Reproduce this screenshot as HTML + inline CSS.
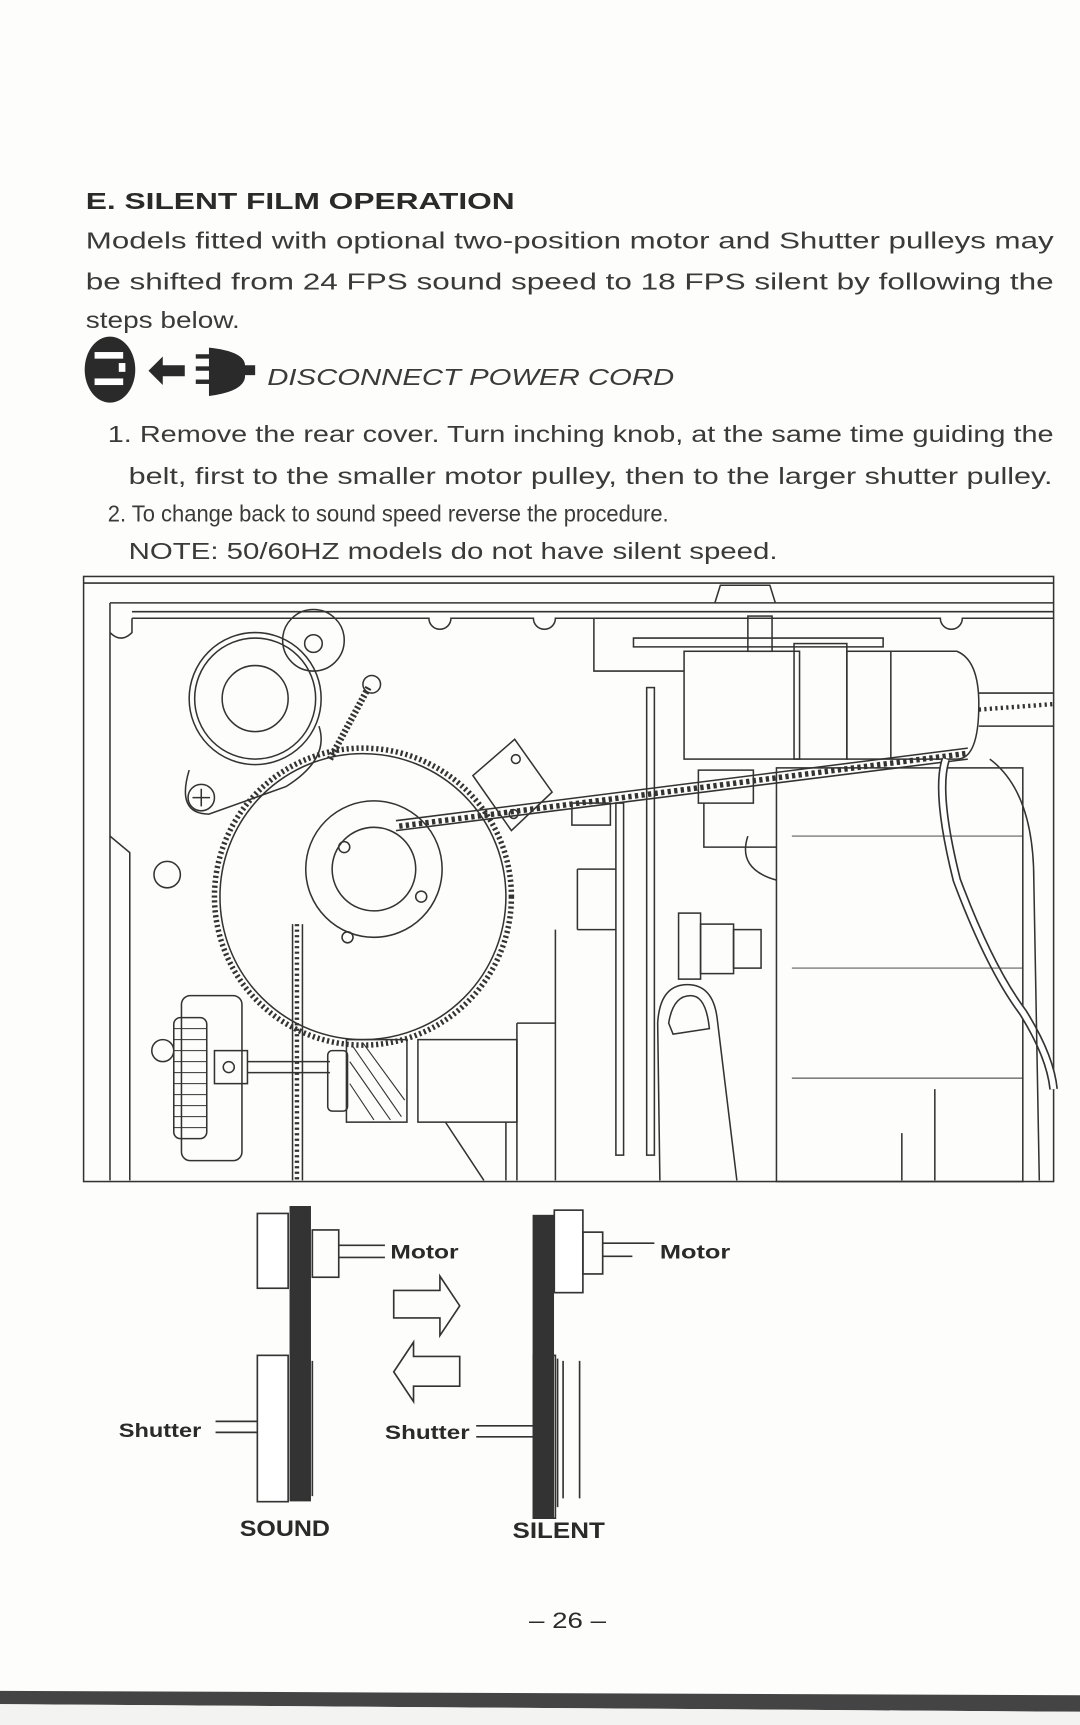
<!DOCTYPE html>
<html><head><meta charset="utf-8"><style>
html,body{margin:0;padding:0;background:#fff;}
svg{display:block}
text{font-family:"Liberation Sans",sans-serif;fill:#2a2a2a}
</style></head><body>
<svg width="1080" height="1725" viewBox="0 0 982 1568" preserveAspectRatio="none" xmlns="http://www.w3.org/2000/svg">
<rect width="982" height="1568" fill="#fdfdfb"/>
<text x="78" y="190" font-size="21" font-weight="bold" textLength="390" lengthAdjust="spacingAndGlyphs">E.  SILENT FILM OPERATION</text>
<g font-size="21" style="fill:#3a3a3a">
<text x="78" y="226" textLength="880" lengthAdjust="spacingAndGlyphs" style="fill:#3a3a3a">Models fitted with optional two-position motor and Shutter pulleys may</text>
<text x="78" y="263" textLength="880" lengthAdjust="spacingAndGlyphs" style="fill:#3a3a3a">be shifted from 24 FPS sound speed to 18 FPS silent by following the</text>
<text x="78" y="298" textLength="140" lengthAdjust="spacingAndGlyphs" style="fill:#3a3a3a">steps below.</text>
<text x="243" y="350" font-style="italic" textLength="370" lengthAdjust="spacingAndGlyphs" style="fill:#3a3a3a">DISCONNECT POWER CORD</text>
<text x="98" y="402" textLength="860" lengthAdjust="spacingAndGlyphs" style="fill:#3a3a3a">1. Remove the rear cover. Turn inching knob, at the same time guiding the</text>
<text x="117" y="440" textLength="840" lengthAdjust="spacingAndGlyphs" style="fill:#3a3a3a">belt, first to the smaller motor pulley, then to the larger shutter pulley.</text>
<text x="98" y="474" textLength="510" lengthAdjust="spacingAndGlyphs" style="fill:#3a3a3a">2. To change back to sound speed reverse the procedure.</text>
<text x="117" y="508" textLength="590" lengthAdjust="spacingAndGlyphs" style="fill:#3a3a3a">NOTE: 50/60HZ models do not have silent speed.</text>
</g>
<g fill="#2a2a2a">
<ellipse cx="100" cy="336" rx="23" ry="30"/>
<rect x="86" y="320" width="26" height="6" fill="#fff"/>
<rect x="86" y="344" width="26" height="6" fill="#fff"/>
<rect x="108" y="330" width="6" height="8" fill="#fff"/>
<polygon points="135,337 148,324 148,332 168,332 168,342 148,342 148,350"/>
<rect x="178" y="322" width="14" height="4"/><rect x="178" y="333" width="14" height="4"/><rect x="178" y="345" width="14" height="4"/>
<path d="M190,316 Q228,320 222,337 Q228,355 190,360 Z"/>
<rect x="220" y="332" width="12" height="9"/>
</g>
<g fill="none" stroke="#333" stroke-width="1.4">
<rect x="76" y="524" width="882" height="550"/>
<path d="M76,530 L958,530"/>
<path d="M100,548 L958,548 M120,556 L958,556"/>
<path d="M120,562 L390,562 A10,10 0 0 0 410,562 L485,562 A10,10 0 0 0 505,562 L855,562 A10,10 0 0 0 875,562 L958,562"/>
<path d="M120,562 L120,575 Q110,585 100,575 M100,548 L100,1073"/>
<path d="M100,760 L118,775 L118,1073"/>
<path d="M650,548 L655,532 L700,532 L705,548"/>
<path d="M540,562 L540,610 L622,610"/>
<circle cx="285" cy="582" r="28"/><circle cx="285" cy="585" r="8"/>
<circle cx="232" cy="635" r="60"/><circle cx="232" cy="635" r="55"/><circle cx="232" cy="635" r="30"/>
<path d="M172,700 Q160,740 190,740 L260,715 Q300,690 290,660"/>
<circle cx="183" cy="725" r="12"/><path d="M183,717 V733 M175,725 H191"/>
<path d="M300,690 L335,625" stroke-width="6" stroke-dasharray="2 2"/>
<circle cx="338" cy="622" r="8"/>
<circle cx="330" cy="815" r="135" stroke-width="5" stroke-dasharray="2 2.5"/>
<circle cx="330" cy="815" r="130"/>
<circle cx="340" cy="790" r="62"/><circle cx="340" cy="790" r="38"/>
<circle cx="313" cy="770" r="5"/><circle cx="383" cy="815" r="5"/><circle cx="316" cy="852" r="5"/>
<circle cx="152" cy="795" r="12"/>
<path d="M430,705 L468,672 L502,720 L465,755 Z"/>
<circle cx="469" cy="690" r="4"/><circle cx="467" cy="740" r="4"/>
<path d="M360,746 L880,680 M360,755 L880,690" />
<path d="M363,751 L878,685" stroke-width="5" stroke-dasharray="3 3"/>
<path d="M266,840 L266,1073 M275,840 L275,1073"/>
<path d="M270,840 L270,1073" stroke-width="4" stroke-dasharray="2 3"/>
<path d="M576,580 L803,580 L803,588 L576,588 Z"/>
<rect x="680" y="560" width="22" height="32"/>
<rect x="622" y="592" width="105" height="98"/>
<rect x="722" y="585" width="48" height="105"/>
<rect x="770" y="592" width="40" height="98"/>
<path d="M810,592 L870,592 Q890,600 890,640 Q890,690 870,690 L810,690"/>
<path d="M890,630 L958,630 M890,660 L958,660"/>
<path d="M890,645 L958,640" stroke-width="4" stroke-dasharray="2 3"/>
<rect x="706" y="698" width="224" height="376"/>
<path d="M635,700 L685,700 L685,730 L635,730 Z"/>
<path d="M640,730 L640,770 L706,770 M680,760 Q670,790 706,800"/>
<rect x="588" y="625" width="7" height="425"/>
<rect x="560" y="730" width="7" height="320"/>
<rect x="520" y="730" width="35" height="20"/>
<path d="M525,790 L560,790 M525,845 L560,845 M525,790 L525,845"/>
<rect x="617" y="830" width="20" height="60"/><rect x="637" y="840" width="30" height="45"/><rect x="667" y="845" width="25" height="35"/>
<path d="M600,1073 L598,930 Q600,895 625,895 Q648,895 652,925 L670,1073"/>
<path d="M608,930 Q612,905 628,905 Q642,905 645,935 L612,940 Z"/>
<path d="M505,845 L505,1073 M470,930 L505,930 M470,930 L470,1073"/>
<rect x="380" y="945" width="90" height="75"/>
<path d="M460,1020 L460,1073 M405,1020 L440,1073"/>
<rect x="315" y="945" width="55" height="75"/>
<path d="M320,950 L365,1015 M330,948 L368,1000 M318,965 L355,1018 M318,985 L340,1018" stroke-width="1"/>
<rect x="298" y="955" width="18" height="55" rx="4"/>
<rect x="165" y="905" width="55" height="150" rx="8"/>
<rect x="158" y="925" width="30" height="110" rx="6"/>
<path d="M158,935 H188 M158,945 H188 M158,955 H188 M158,965 H188 M158,975 H188 M158,985 H188 M158,995 H188 M158,1005 H188 M158,1015 H188 M158,1025 H188" stroke-width="1"/>
<circle cx="148" cy="955" r="10"/>
<rect x="195" y="955" width="30" height="30"/><circle cx="208" cy="970" r="5"/>
<path d="M225,965 H300 M225,975 H300"/>
<path d="M860,690 Q850,720 870,800 Q900,880 930,920 Q955,960 958,990" stroke-width="8" stroke="#333"/>
<path d="M860,690 Q850,720 870,800 Q900,880 930,920 Q955,960 958,990" stroke-width="5" stroke="#fff"/>
<path d="M900,690 Q940,720 940,800 L945,1073 M850,990 L850,1073 M820,1030 L820,1073"/>
<path d="M720,760 H930 M720,880 H930 M720,980 H930" stroke-width="0.8"/>
</g>
<g fill="none" stroke="#333" stroke-width="1.5">
<rect x="234" y="1103" width="28" height="68" fill="#fff"/>
<rect x="264" y="1097" width="18" height="267" fill="#333"/>
<rect x="284" y="1118" width="24" height="43"/>
<path d="M308,1132 H350 M308,1143 H350"/>
<rect x="234" y="1232" width="28" height="133" fill="#fff"/>
<path d="M284,1237 V1360"/>
<path d="M196,1292 H234 M196,1302 H234"/>
<path d="M358,1173 H400 V1160 L418,1187 L400,1214 V1198 H358 Z"/>
<path d="M418,1233 H376 V1220 L358,1247 L376,1274 V1260 H418 Z"/>
<rect x="485" y="1105" width="18" height="275" fill="#333"/>
<rect x="504" y="1100" width="26" height="75" fill="#fff"/>
<rect x="530" y="1120" width="18" height="38"/>
<path d="M548,1130 H595 M548,1142 H575"/>
<rect x="485" y="1232" width="20" height="148" fill="none"/>
<path d="M507,1235 V1370 M512,1237 V1362 M527,1237 V1362"/>
<path d="M433,1296 H485 M433,1306 H485"/>
</g>
<g font-weight="bold" font-size="18">
<text x="355" y="1144" textLength="62" lengthAdjust="spacingAndGlyphs">Motor</text>
<text x="600" y="1144" textLength="64" lengthAdjust="spacingAndGlyphs">Motor</text>
<text x="108" y="1306" textLength="75" lengthAdjust="spacingAndGlyphs">Shutter</text>
<text x="350" y="1308" textLength="77" lengthAdjust="spacingAndGlyphs">Shutter</text>
<text x="218" y="1396" font-size="20" textLength="82" lengthAdjust="spacingAndGlyphs">SOUND</text>
<text x="466" y="1398" font-size="20" textLength="84" lengthAdjust="spacingAndGlyphs">SILENT</text>
</g>
<text x="481" y="1480" font-size="20" textLength="70" lengthAdjust="spacingAndGlyphs">– 26 –</text>
<path d="M0,1537 L982,1541 L982,1556 L0,1549 Z" fill="#444"/>
<path d="M0,1549 L982,1556 L982,1568 L0,1568 Z" fill="#f3f3f1"/>
</svg>
</body></html>
